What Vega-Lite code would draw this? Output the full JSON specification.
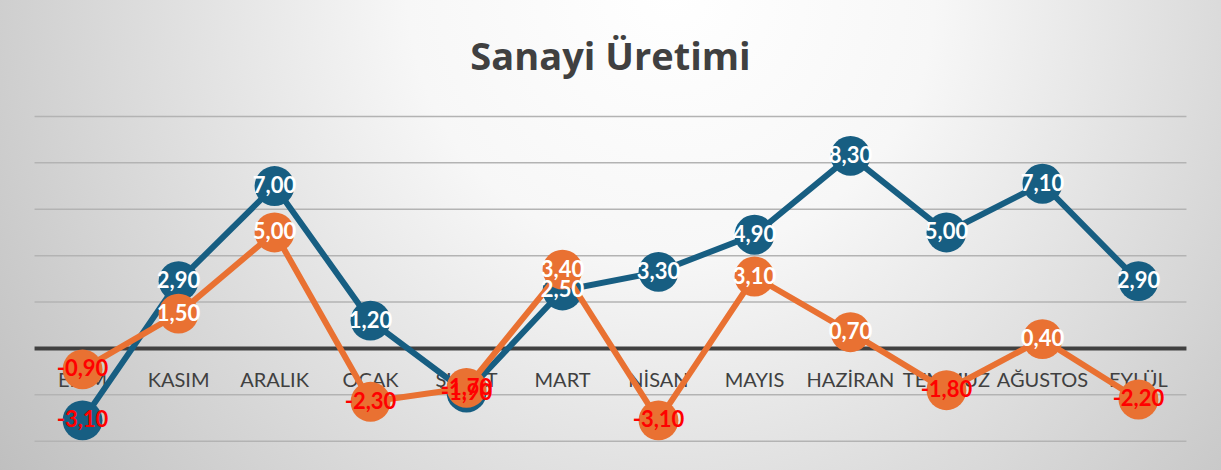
{
  "$schema": "https://vega.github.io/schema/vega-lite/v6.json",
  "width": 1221,
  "height": 470,
  "autosize": {"type": "fit", "contains": "padding"},
  "padding": 0,
  "background": "#ffffff",
  "title": {"text": "Sanayi Üretimi", "fontSize": 38, "font": "Open Sans", "fontWeight": "bold", "color": "#404040", "offset": -78, "anchor": "middle"},
  "view": {
    "stroke": null,
    "fill": {"gradient": "radial", "x1": 0.55, "y1": 0.3, "x2": 0.55, "y2": 0.3, "r1": 0, "r2": 0.72,
      "stops": [{"offset": 0, "color": "#ffffff"}, {"offset": 0.3, "color": "#f7f7f7"}, {"offset": 1, "color": "#bababa"}]}
  },
  "config": {
    "locale": {"number": {"decimal": ",", "thousands": ".", "grouping": [3], "currency": ["", " TL"], "minus": "-"}},
    "axisY": {"disable": true},
    "axisX": {"orient": "bottom", "offset": -121, "domain": false, "ticks": false, "tickSize": 0, "grid": false, "labelPadding": 21, "labelFontSize": 20, "labelFont": "Lato", "labelColor": "#404040", "labelAngle": 0, "title": null, "labelOverlap": false, "labelBound": false, "zindex": 1}
  },
  "datasets": {
    "seriler": [
      {"ay": "EKİM", "seri": "A", "v": -3.1},
      {"ay": "KASIM", "seri": "A", "v": 2.9},
      {"ay": "ARALIK", "seri": "A", "v": 7.0},
      {"ay": "OCAK", "seri": "A", "v": 1.2},
      {"ay": "ŞUBAT", "seri": "A", "v": -1.9},
      {"ay": "MART", "seri": "A", "v": 2.5},
      {"ay": "NİSAN", "seri": "A", "v": 3.3},
      {"ay": "MAYIS", "seri": "A", "v": 4.9},
      {"ay": "HAZİRAN", "seri": "A", "v": 8.3},
      {"ay": "TEMMUZ", "seri": "A", "v": 5.0},
      {"ay": "AĞUSTOS", "seri": "A", "v": 7.1},
      {"ay": "EYLÜL", "seri": "A", "v": 2.9},
      {"ay": "EKİM", "seri": "B", "v": -0.9},
      {"ay": "KASIM", "seri": "B", "v": 1.5},
      {"ay": "ARALIK", "seri": "B", "v": 5.0},
      {"ay": "OCAK", "seri": "B", "v": -2.3},
      {"ay": "ŞUBAT", "seri": "B", "v": -1.7},
      {"ay": "MART", "seri": "B", "v": 3.4},
      {"ay": "NİSAN", "seri": "B", "v": -3.1},
      {"ay": "MAYIS", "seri": "B", "v": 3.1},
      {"ay": "HAZİRAN", "seri": "B", "v": 0.7},
      {"ay": "TEMMUZ", "seri": "B", "v": -1.8},
      {"ay": "AĞUSTOS", "seri": "B", "v": 0.4},
      {"ay": "EYLÜL", "seri": "B", "v": -2.2}
    ],
    "izgara": [{"g": -4}, {"g": -2}, {"g": 2}, {"g": 4}, {"g": 6}, {"g": 8}, {"g": 10}]
  },
  "layer": [
    {
      "data": {"name": "izgara"},
      "mark": {"type": "rule", "color": "#b3b3b3", "strokeWidth": 1.5},
      "encoding": {
        "y": {"field": "g", "type": "quantitative", "scale": {"domain": [-5.24, 15.02], "nice": false, "zero": false}},
        "x": {"datum": "EKİM", "bandPosition": 0, "scale": {"type": "band", "domain": ["EKİM", "KASIM", "ARALIK", "OCAK", "ŞUBAT", "MART", "NİSAN", "MAYIS", "HAZİRAN", "TEMMUZ", "AĞUSTOS", "EYLÜL"], "paddingInner": 0, "paddingOuter": 0.36}},
        "x2": {"datum": "EYLÜL", "bandPosition": 1}
      }
    },
    {
      "data": {"name": "izgara"},
      "transform": [{"filter": "datum.g == -4"}],
      "mark": {"type": "rule", "color": "#404040", "strokeWidth": 4},
      "encoding": {
        "y": {"datum": 0, "type": "quantitative"},
        "x": {"datum": "EKİM", "bandPosition": 0},
        "x2": {"datum": "EYLÜL", "bandPosition": 1}
      }
    },
    {
      "data": {"name": "seriler"},
      "transform": [{"filter": "datum.seri == 'A'"}],
      "mark": {"type": "line", "color": "#175e82", "strokeWidth": 6},
      "encoding": {
        "x": {"field": "ay", "type": "nominal", "bandPosition": 0.5},
        "y": {"field": "v", "type": "quantitative"}
      }
    },
    {
      "data": {"name": "seriler"},
      "transform": [{"filter": "datum.seri == 'A'"}],
      "mark": {"type": "circle", "color": "#175e82", "opacity": 1, "size": 1590},
      "encoding": {
        "x": {"field": "ay", "type": "nominal", "bandPosition": 0.5},
        "y": {"field": "v", "type": "quantitative"}
      }
    },
    {
      "data": {"name": "seriler"},
      "transform": [{"filter": "datum.seri == 'B'"}],
      "mark": {"type": "line", "color": "#e97132", "strokeWidth": 6},
      "encoding": {
        "x": {"field": "ay", "type": "nominal", "bandPosition": 0.5},
        "y": {"field": "v", "type": "quantitative"}
      }
    },
    {
      "data": {"name": "seriler"},
      "transform": [{"filter": "datum.seri == 'B'"}],
      "mark": {"type": "circle", "color": "#e97132", "opacity": 1, "size": 1590},
      "encoding": {
        "x": {"field": "ay", "type": "nominal", "bandPosition": 0.5},
        "y": {"field": "v", "type": "quantitative"}
      }
    },
    {
      "data": {"name": "seriler"},
      "mark": {"type": "text", "font": "Lato", "fontSize": 22, "fontWeight": "bold", "align": "center", "baseline": "middle"},
      "encoding": {
        "x": {"field": "ay", "type": "nominal", "bandPosition": 0.5},
        "y": {"field": "v", "type": "quantitative"},
        "text": {"field": "v", "type": "quantitative", "format": ".2f"},
        "color": {"condition": {"test": "datum.v < 0", "value": "#ff0000"}, "value": "#ffffff"}
      }
    }
  ]
}
